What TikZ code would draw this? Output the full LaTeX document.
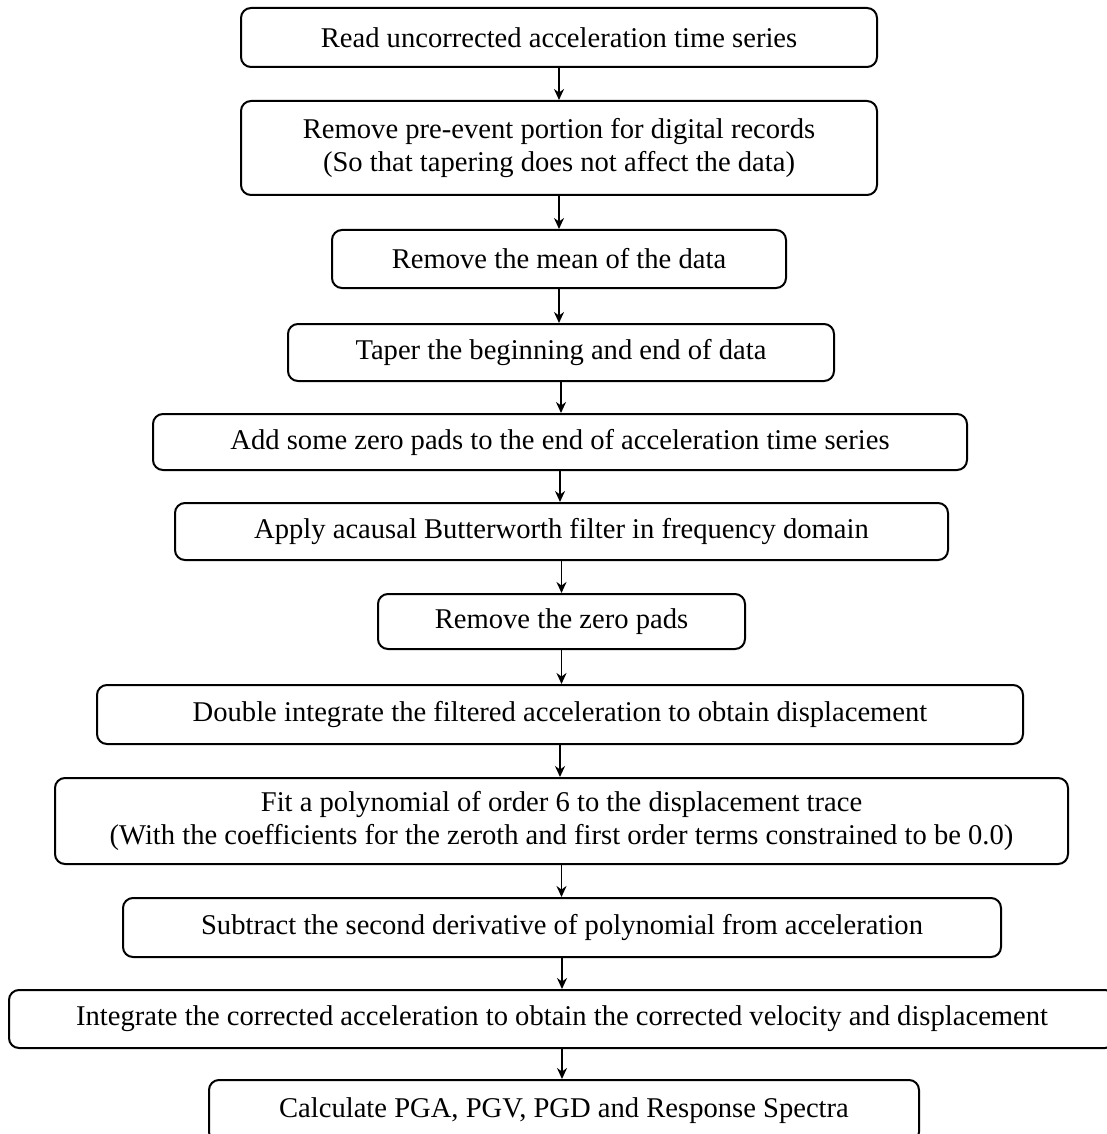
\documentclass[tikz,border=0pt]{standalone}
\usepackage{fontspec}
\setmainfont{Liberation Serif}
\usetikzlibrary{arrows.meta}

\begin{document}
\begin{tikzpicture}[x=0.5pt,y=-0.5pt,
  stepbox/.style={draw,line width=1pt,rounded corners=5pt,align=center,inner sep=0pt,font=\fontsize{14.3}{16.5}\selectfont},
  flow/.style={-{Stealth[length=5.5pt,width=5pt]},line width=0.9pt}]
\useasboundingbox (0,0) rectangle (1107,1134);

\node[stepbox,minimum width=318pt,minimum height=29.5pt] (1) at (559,37.5) {Read uncorrected acceleration time series};

\node[stepbox,minimum width=318pt,minimum height=47pt] (2) at (559,148) {Remove pre-event portion for digital records\\(So that tapering does not affect the data)};

\node[stepbox,minimum width=227pt,minimum height=29pt] (3) at (559,259) {Remove the mean of the data};

\node[stepbox,minimum width=273pt,minimum height=28.5pt] (4) at (561,352.5) {Taper the beginning and end of data};

\node[stepbox,minimum width=407pt,minimum height=28pt] (5) at (560,442) {Add some zero pads to the end of acceleration time series};

\node[stepbox,minimum width=386.5pt,minimum height=28.5pt] (6) at (561.5,531.5) {Apply acausal Butterworth filter in frequency domain};

\node[stepbox,minimum width=183.5pt,minimum height=27.5pt] (7) at (561.5,621.5) {Remove the zero pads};

\node[stepbox,minimum width=463pt,minimum height=29.5pt] (8) at (560,714.5) {Double integrate the filtered acceleration to obtain displacement};

\node[stepbox,minimum width=506.5pt,minimum height=43pt] (9) at (561.5,821) {Fit a polynomial of order 6 to the displacement trace\\(With the coefficients for the zeroth and first order terms constrained to be 0.0)};

\node[stepbox,minimum width=439pt,minimum height=29.5pt] (10) at (562,927.5) {Subtract the second derivative of polynomial from acceleration};

\node[stepbox,minimum width=553pt,minimum height=29pt] (11) at (562,1019) {Integrate the corrected acceleration to obtain the corrected velocity and displacement};

\node[stepbox,minimum width=355pt,minimum height=31pt] (12) at (564,1111) {Calculate PGA, PGV, PGD and Response Spectra};

\draw[flow] (1) -- (1 |- 2.north);
\draw[flow] (2) -- (2 |- 3.north);
\draw[flow] (3) -- (3 |- 4.north);
\draw[flow] (4) -- (4 |- 5.north);
\draw[flow] (5) -- (5 |- 6.north);
\draw[flow] (6) -- (6 |- 7.north);
\draw[flow] (7) -- (7 |- 8.north);
\draw[flow] (8) -- (8 |- 9.north);
\draw[flow] (9) -- (9 |- 10.north);
\draw[flow] (10) -- (10 |- 11.north);
\draw[flow] (11) -- (11 |- 12.north);

\end{tikzpicture}
\end{document}
